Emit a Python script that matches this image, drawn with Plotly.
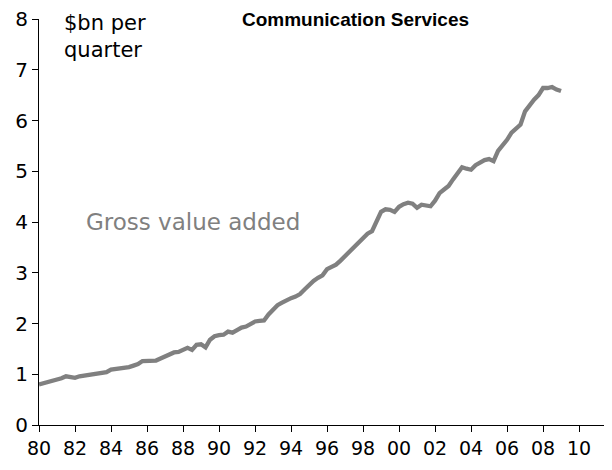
import plotly.graph_objects as go

start_year = 1980
values = [
    0.80, 0.82, 0.84, 0.87, 0.90, 0.92, 0.96, 0.95,
    0.93, 0.96, 0.97, 0.98, 1.01, 1.02, 1.02, 1.04,
    1.09, 1.10, 1.10, 1.11, 1.14, 1.17, 1.20, 1.26,
    1.27, 1.27, 1.27, 1.31, 1.35, 1.38, 1.43, 1.44,
    1.49, 1.52, 1.48, 1.58, 1.59, 1.53, 1.68, 1.75,
    1.77, 1.78, 1.84, 1.82, 1.87, 1.92, 1.94, 1.98,
    2.04, 2.05, 2.06, 2.18, 2.28, 2.36, 2.41, 2.46,
    2.50, 2.53, 2.58, 2.67, 2.76, 2.84, 2.90, 2.95,
    3.07, 3.11, 3.16, 3.24, 3.33, 3.41, 3.52, 3.61,
    3.71, 3.77, 3.82, 4.00, 4.20, 4.25, 4.24, 4.20,
    4.30, 4.35, 4.38, 4.36, 4.28, 4.34, 4.33, 4.31,
    4.42, 4.57, 4.64, 4.71, 4.84, 4.95, 5.08, 5.05,
    5.03, 5.12, 5.18, 5.22, 5.24, 5.20, 5.40, 5.50,
    5.62, 5.76, 5.84, 5.92, 6.18, 6.30, 6.41, 6.50,
    6.64, 6.64, 6.66, 6.61, 6.58,
]
dates = [start_year + i / 4 for i in range(len(values))]

tick_years = list(range(1980, 2011, 2))
tick_labels = [f"{y % 100:02d}" for y in tick_years]
y_ticks = list(range(0, 9))

title_text = "Communication Services"
unit_text = "$bn per<br>quarter"
series_name = "Gross value added"

grey = "#808080"
font_family = "DejaVu Sans, Verdana, sans-serif"

fig = go.Figure()
fig.add_trace(go.Scatter(
    x=dates, y=values, mode="lines",
    line=dict(color=grey, width=4.3),
    name=series_name, showlegend=False,
))

# page body has an 8px default margin, so the figure is shrunk and shifted
fig.update_layout(
    width=604, height=462,
    margin=dict(l=31, r=0, t=11, b=45, autoexpand=False),
    paper_bgcolor="white", plot_bgcolor="white",
    font=dict(family=font_family, size=20, color="black"),
    showlegend=False,
)
fig.update_xaxes(
    range=[1980, 2011.83],
    tickmode="array", tickvals=tick_years, ticktext=tick_labels,
    ticks="outside", ticklen=6, tickwidth=1, tickcolor="black",
    showline=True, linecolor="black", linewidth=1,
    showgrid=False, zeroline=False, automargin=False,
    tickfont=dict(size=19), ticklabeloverflow="allow",
)
fig.update_yaxes(
    range=[0, 8],
    tickmode="array", tickvals=y_ticks,
    ticks="outside", ticklen=6, tickwidth=1, tickcolor="black",
    showline=True, linecolor="black", linewidth=1,
    showgrid=False, zeroline=False, automargin=False,
    tickfont=dict(size=20), ticklabeloverflow="allow",
    ticklabelstandoff=0,
)

fig.add_annotation(
    text="<b>" + title_text + "</b>", xref="paper", yref="paper",
    x=0.553, y=1.0, xanchor="center", yanchor="middle", showarrow=False,
    font=dict(family="Liberation Sans, Arial, sans-serif", size=19, color="black"),
)
fig.add_annotation(
    text=unit_text, xref="paper", yref="paper",
    x=0.040, y=1.025, xanchor="left", yanchor="top", align="left", showarrow=False,
    font=dict(size=21, color="black"),
)
fig.add_annotation(
    text=series_name, xref="paper", yref="paper",
    x=0.078, y=0.50, xanchor="left", yanchor="middle", showarrow=False,
    font=dict(size=23, color=grey),
)

fig.write_html("out.html")
